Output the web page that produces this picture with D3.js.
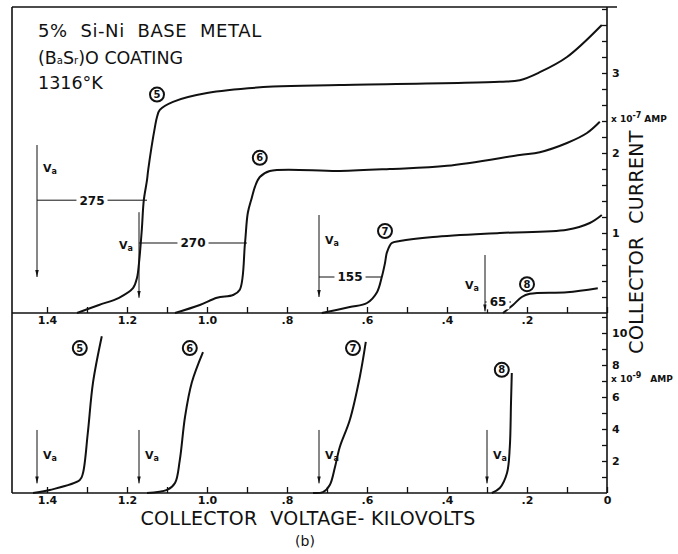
<!DOCTYPE html>
<html>
<head>
<meta charset="utf-8">
<script src="https://cdn.jsdelivr.net/npm/d3@7"></script>
<style>
  body { margin: 0; background: #fff; }
  text { font-family: "DejaVu Sans", sans-serif; fill: #111; }
</style>
</head>
<body>
<svg id="chart" width="678" height="554"></svg>
<script>
// curves: [kilovolts, current]
// upper panel current in 1e-7 A, lower panel in 1e-9 A
const top5 = [[1.325, 0], [1.27, 0.1], [1.22, 0.19], [1.185, 0.31], [1.175, 0.44], [1.17, 0.625],
  [1.163, 1.04], [1.158, 1.41], [1.15, 1.66], [1.147, 1.79], [1.13, 2.33], [1.125, 2.45],
  [1.118, 2.54], [1.085, 2.64], [1.0, 2.75], [0.835, 2.83], [0.668, 2.85], [0.268, 2.89],
  [0.218, 2.91], [0.168, 3.01], [0.1, 3.2], [0.013, 3.6]];
const top6 = [[1.08, 0], [1.018, 0.1], [0.975, 0.19], [0.935, 0.225], [0.918, 0.29], [0.905, 0.875],
  [0.898, 1.25], [0.888, 1.44], [0.88, 1.58], [0.868, 1.7], [0.843, 1.775], [0.668, 1.775],
  [0.543, 1.8], [0.4, 1.84], [0.218, 1.975], [0.168, 2.01], [0.1, 2.125], [0.05, 2.25], [0.018, 2.39]];
const top7 = [[0.713, 0], [0.643, 0.075], [0.6, 0.125], [0.575, 0.26], [0.563, 0.45], [0.555, 0.625],
  [0.55, 0.76], [0.538, 0.875], [0.518, 0.9], [0.435, 0.95], [0.268, 1.0], [0.1, 1.04],
  [0.043, 1.125], [0.013, 1.225]];
const top8 = [[0.26, 0], [0.235, 0.1], [0.213, 0.2], [0.193, 0.24], [0.1, 0.26], [0.023, 0.31]];

const bot5 = [[1.435, 0], [1.393, 0.19], [1.318, 0.81], [1.31, 1.25], [1.298, 3.75], [1.285, 6.9], [1.263, 9.8]];
const bot6 = [[1.15, 0], [1.1, 0.19], [1.08, 0.625], [1.068, 2.06], [1.055, 4.75], [1.038, 6.9], [1.01, 8.8]];
const bot7 = [[0.735, 0], [0.71, 0.06], [0.693, 0.5], [0.68, 1.625], [0.668, 2.875], [0.643, 4.56], [0.618, 7.25], [0.603, 9.44]];
const bot8 = [[0.288, 0], [0.268, 0.31], [0.25, 1.25], [0.243, 2.875], [0.24, 5.625], [0.238, 7.5]];

const curveIds = ["5", "6", "7", "8"];
const topLabelAt = [[1.125, 2.73], [0.868, 1.94], [0.555, 1.025], [0.2, 0.36]];
const botLabelAt = [[1.318, 9.06], [1.043, 9.06], [0.635, 9.06], [0.263, 7.7]];

// onset voltage arrows and the widths marked between onset and rise (volts)
const vaTop = [1.425, 1.17, 0.72, 0.305];
const vaTopFrom = [2.1, 1.26, 1.225, 0.725];
const vaTopTo = [0.45, 0.19, 0.2, 0.02];
const vaTopText = [1.81, 0.85, 0.91, 0.35];
const vaTopSide = [1, -1, 1, -1];
const widths = [275, 270, 155, 65];
const widthLevel = [1.41, 0.875, 0.45, 0.1375];
const vaBot = [1.425, 1.17, 0.72, 0.3];
const vaBotFrom = 3.94, vaBotTo = 0.6, vaBotText = 2.4;

const voltTicks = d3.range(0, 15).map(i => i / 10);
const topCurrentTicks = d3.range(1, 20).map(i => i / 5);
const botCurrentTicks = d3.range(1, 12);

const titleLines = ["5%  Si-Ni  BASE  METAL", "(BaSr)O COATING", "1316°K"];

const svg = d3.select("#chart");
const plotLeft = 12, plotRight = 607, plotTop = 7, plotMid = 313, plotBottom = 493;

const x = d3.scaleLinear().domain([1.4875, 0]).range([plotLeft, plotRight]);
const yTop = d3.scaleLinear().domain([0, 3.825]).range([plotMid, plotTop]);
const yBot = d3.scaleLinear().domain([0, 11.25]).range([plotBottom, plotMid]);

svg.append("defs").append("marker")
  .attr("id", "arrow")
  .attr("viewBox", "0 0 10 10")
  .attr("refX", 10).attr("refY", 5)
  .attr("markerWidth", 7).attr("markerHeight", 7)
  .attr("markerUnits", "userSpaceOnUse")
  .attr("orient", "auto")
  .append("path").attr("d", "M0,2.5L10,5L0,7.5Z").attr("fill", "#111");

// frame
const frame = svg.append("g").attr("stroke", "#111").attr("stroke-width", 1.6);
frame.append("line").attr("x1", plotLeft).attr("x2", 617).attr("y1", plotTop).attr("y2", plotTop);
frame.append("line").attr("x1", plotLeft).attr("x2", plotLeft).attr("y1", plotTop).attr("y2", plotBottom);
frame.append("line").attr("x1", plotRight).attr("x2", plotRight).attr("y1", plotTop).attr("y2", plotBottom);
frame.append("line").attr("x1", plotLeft).attr("x2", plotRight).attr("y1", plotMid).attr("y2", plotMid);
frame.append("line").attr("x1", plotLeft).attr("x2", plotRight).attr("y1", plotBottom).attr("y2", plotBottom);

const fmtVolt = v => {
  const r = Math.round(v * 10);
  if (r % 2) return "";
  if (r === 0) return "0";
  return r >= 10 ? (r / 10).toFixed(1) : "." + r;
};

function styleAxis(g) {
  g.select(".domain").remove();
  g.selectAll(".tick line").attr("stroke", "#111").attr("stroke-width", 1.3);
  g.selectAll(".tick text").attr("font-size", 11).attr("font-weight", "bold").attr("fill", "#111");
}

svg.append("g").attr("transform", `translate(0,${plotMid})`)
  .call(d3.axisBottom(x).tickValues(voltTicks).tickSizeInner(-6).tickSizeOuter(0).tickPadding(3)
    .tickFormat(v => v === 0 ? "" : fmtVolt(v)))
  .call(styleAxis);
svg.append("g").attr("transform", `translate(0,${plotBottom})`)
  .call(d3.axisBottom(x).tickValues(voltTicks).tickSizeInner(-6).tickSizeOuter(0).tickPadding(3)
    .tickFormat(fmtVolt))
  .call(styleAxis);

svg.append("g").attr("transform", `translate(${plotRight},0)`)
  .call(d3.axisRight(yTop).tickValues(topCurrentTicks).tickSizeInner(-5).tickSizeOuter(0).tickPadding(5)
    .tickFormat(v => Math.abs(v - Math.round(v)) < 1e-6 ? d3.format("d")(v) : ""))
  .call(styleAxis);
svg.append("g").attr("transform", `translate(${plotRight},0)`)
  .call(d3.axisRight(yBot).tickValues(botCurrentTicks).tickSizeInner(-5).tickSizeOuter(0).tickPadding(5)
    .tickFormat(v => v % 2 === 0 ? v : ""))
  .call(styleAxis);

// unit notes on the right axis
function unitNote(y, exp, gap) {
  const t = svg.append("text").attr("x", 611).attr("y", y + 4).attr("font-size", 9).attr("font-weight", "bold");
  t.append("tspan").text("x 10");
  t.append("tspan").attr("dy", -4).attr("font-size", 8).text(exp);
  t.append("tspan").attr("dy", 4).attr("dx", gap).text("AMP");
}
unitNote(yTop(2.44), "-7", 3);
unitNote(yBot(7.2), "-9", 9);

// curves
const lineTop = d3.line().x(d => x(d[0])).y(d => yTop(d[1])).curve(d3.curveCatmullRom.alpha(0.5));
const lineBot = d3.line().x(d => x(d[0])).y(d => yBot(d[1])).curve(d3.curveCatmullRom.alpha(0.5));

svg.append("g").selectAll("path").data([top5, top6, top7, top8]).join("path")
  .attr("d", lineTop).attr("fill", "none").attr("stroke", "#111").attr("stroke-width", 2);
svg.append("g").selectAll("path").data([bot5, bot6, bot7, bot8]).join("path")
  .attr("d", lineBot).attr("fill", "none").attr("stroke", "#111").attr("stroke-width", 2);

// circled curve numbers
function circled(px, py, label) {
  const g = svg.append("g").attr("transform", `translate(${px},${py})`);
  g.append("circle").attr("r", 7).attr("fill", "#fff").attr("stroke", "#111").attr("stroke-width", 2);
  g.append("text").attr("text-anchor", "middle").attr("dy", "0.36em")
    .attr("font-size", 10).attr("font-weight", "bold").text(label);
}
curveIds.forEach((id, i) => {
  circled(x(topLabelAt[i][0]), yTop(topLabelAt[i][1]), id);
  circled(x(botLabelAt[i][0]), yBot(botLabelAt[i][1]), id);
});

// V_a label
function vaLabel(px, py, anchor) {
  const t = svg.append("text").attr("x", px).attr("y", py + 4)
    .attr("text-anchor", anchor).attr("font-size", 11).attr("font-weight", "bold");
  t.append("tspan").text("V");
  t.append("tspan").attr("font-size", 8).attr("dy", 2).text("a");
}

const ann = svg.append("g");
vaTop.forEach((v, i) => {
  ann.append("line")
    .attr("x1", x(v)).attr("x2", x(v))
    .attr("y1", yTop(vaTopFrom[i])).attr("y2", yTop(vaTopTo[i]))
    .attr("stroke", "#111").attr("stroke-width", 1).attr("marker-end", "url(#arrow)");
  vaLabel(x(v) + vaTopSide[i] * 6, yTop(vaTopText[i]), vaTopSide[i] > 0 ? "start" : "end");

  const x0 = x(v), x1 = x(v - widths[i] / 1000), yy = yTop(widthLevel[i]);
  ann.append("line").attr("x1", x0).attr("x2", x1).attr("y1", yy).attr("y2", yy)
    .attr("stroke", "#111").attr("stroke-width", 1);
  const t = ann.append("text").attr("x", (x0 + x1) / 2).attr("y", yy).attr("dy", "0.36em")
    .attr("text-anchor", "middle").attr("font-size", 12).attr("font-weight", "bold").text(widths[i]);
  const bb = t.node().getBBox();
  ann.insert("rect", () => t.node())
    .attr("x", bb.x - 3).attr("y", bb.y).attr("width", bb.width + 6).attr("height", bb.height).attr("fill", "#fff");
});

vaBot.forEach(v => {
  ann.append("line")
    .attr("x1", x(v)).attr("x2", x(v))
    .attr("y1", yBot(vaBotFrom)).attr("y2", yBot(vaBotTo))
    .attr("stroke", "#111").attr("stroke-width", 1).attr("marker-end", "url(#arrow)");
  vaLabel(x(v) + 6, yBot(vaBotText), "start");
});

// title block
svg.append("text").attr("x", 38).attr("y", 37).attr("font-size", 18)
  .attr("letter-spacing", 0.6).attr("xml:space", "preserve").style("white-space", "pre").text(titleLines[0]);
const l2 = svg.append("text").attr("x", 38).attr("y", 64).attr("font-size", 17.5);
l2.append("tspan").text("(B");
l2.append("tspan").attr("font-size", 10).text("a");
l2.append("tspan").text("S");
l2.append("tspan").attr("font-size", 10).text("r");
l2.append("tspan").text(")O COATING");
svg.append("text").attr("x", 38).attr("y", 89).attr("font-size", 17.5).text(titleLines[2]);

// axis titles
svg.append("text").attr("x", 308).attr("y", 525).attr("text-anchor", "middle")
  .attr("font-size", 19).attr("letter-spacing", 0.3).style("white-space", "pre")
  .text("COLLECTOR  VOLTAGE- KILOVOLTS");
svg.append("text").attr("x", 305).attr("y", 546).attr("text-anchor", "middle")
  .attr("font-size", 14).text("(b)");
svg.append("text").attr("transform", "translate(643,242) rotate(-90)").attr("text-anchor", "middle")
  .attr("font-size", 19).attr("letter-spacing", 0.3).style("white-space", "pre")
  .text("COLLECTOR  CURRENT");
</script>
</body>
</html>
